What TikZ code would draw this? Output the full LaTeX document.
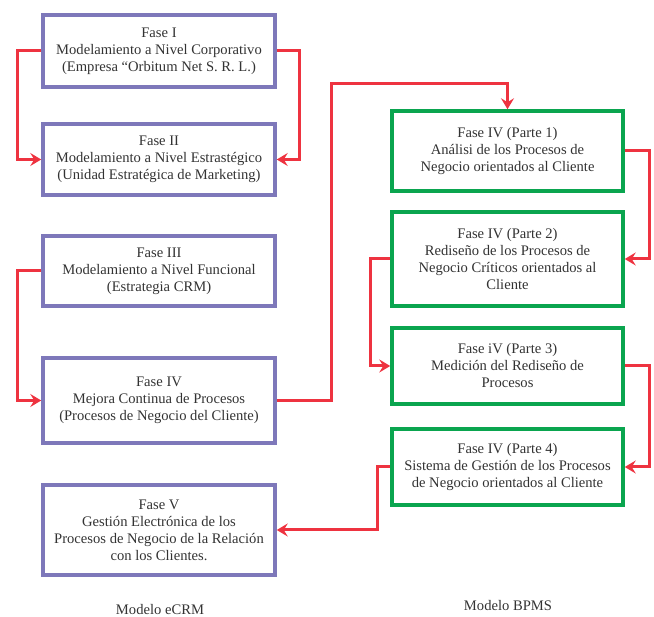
\documentclass[tikz,border=0pt]{standalone}
\usepackage{fontspec}
\setmainfont{Liberation Serif}
\usepackage{tikz}
\usetikzlibrary{calc, arrows.meta}
\definecolor{fasepurple}{HTML}{7E78BA}
\definecolor{fasegreen}{HTML}{0AA54F}
\definecolor{linkred}{HTML}{EE3340}
\definecolor{fasetext}{HTML}{333333}

\begin{document}
\begin{tikzpicture}[x=1pt, y=1pt,
    fase/.style={draw=fasepurple, line width=3.5pt, fill=white, align=center, text=fasetext, minimum width=232pt, inner sep=2pt, font=\fontsize{14.6}{17}\selectfont},
    parte/.style={fase, draw=fasegreen, minimum width=231pt},
    link/.style={draw=linkred, line width=3pt, -{Stealth[length=11pt, width=13pt, inset=4pt]}},
    modelo/.style={text=fasetext, font=\fontsize{14.6}{17}\selectfont}]
\useasboundingbox (0,0) rectangle (654,-617);
%\draw[help lines, step=50] (0,0) grid (654,-617);
    \node[fase, minimum height=72pt] (f1) at (159,-51) {Fase I\\Modelamiento a Nivel Corporativo\\(Empresa “Orbitum Net S. R. L.)};
    \node[fase, minimum height=71pt] (f2) at (159,-159.5) {Fase II\\Modelamiento a Nivel Estrastégico\\(Unidad Estratégica de Marketing)};
    \node[fase, minimum height=70pt] (f3) at (159,-271) {Fase III\\Modelamiento a Nivel Funcional\\(Estrategia CRM)};
    \node[fase, minimum height=85pt] (f4) at (159,-400.5) {Fase IV\\Mejora Continua de Procesos\\(Procesos de Negocio del Cliente)};
    \node[fase, minimum height=90pt] (f5) at (159,-530) {Fase V\\Gestión Electrónica de los\\Procesos de Negocio de la Relación\\con los Clientes.};
    \node[parte, minimum height=80pt] (p1) at (507.5,-151) {Fase IV (Parte 1)\\Análisi de los Procesos de\\Negocio orientados al Cliente};
    \node[parte, minimum height=94pt] (p2) at (507.5,-259) {Fase IV (Parte 2)\\Rediseño de los Procesos de\\Negocio Críticos orientados al\\Cliente};
    \node[parte, minimum height=76pt] (p3) at (507.5,-366) {Fase iV (Parte 3)\\Medición del Rediseño de\\Procesos};
    \node[parte, minimum height=76pt] (p4) at (507.5,-467) {Fase IV (Parte 4)\\Sistema de Gestión de los Procesos\\de Negocio orientados al Cliente};
    \node[modelo] (ecrm) at (160,-610) {Modelo eCRM};
    \node[modelo] (bpms) at (508,-606) {Modelo BPMS};
    \draw[link] (f1.west) -- ++(-24,0) |- (f2.west);
    \draw[link] (f1.east) -- ++(23,0) |- (f2.east);
    \draw[link] (f3.west) -- ++(-24,0) |- (f4.west);
    \draw[link] (f4.east) -- ++(55,0) |- ([yshift=26pt]p1.north) -- (p1.north);
    \draw[link] (p1.east) -- ++(25,0) |- (p2.east);
    \draw[link] (p2.west) -- ++(-20,0) |- (p3.west);
    \draw[link] (p3.east) -- ++(25,0) |- (p4.east);
    \draw[link] (p4.west) -- ++(-13,0) |- (f5.east);
\end{tikzpicture}
\end{document}
